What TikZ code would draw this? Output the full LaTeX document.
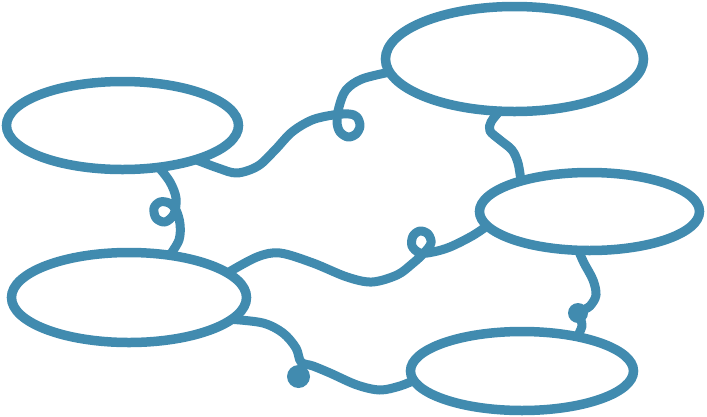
\documentclass[tikz,border=0pt]{standalone}
\usetikzlibrary{shapes.geometric}
\definecolor{curl}{RGB}{65,139,175}
\begin{document}
\begin{tikzpicture}[x=1pt,y=-1pt,
  bubble/.style={draw=curl, line width=9.5pt, ellipse, inner sep=0pt, outer sep=0pt},
  curly/.style={draw=curl, line width=9pt, line cap=round, line join=round},
  blob/.style={fill=curl}]
\useasboundingbox (0,0) rectangle (707,416);
\node[bubble, minimum width=232pt, minimum height=88pt] (e1) at (122.5,125.5) {};
\node[bubble, minimum width=258pt, minimum height=105pt] (e2) at (514.5,59) {};
\node[bubble, minimum width=220pt, minimum height=78pt] (e3) at (589.5,211.5) {};
\node[bubble, minimum width=235pt, minimum height=90pt] (e4) at (129,297.5) {};
\node[bubble, minimum width=223pt, minimum height=79pt] (e5) at (522,371) {};
% e1 -> e2
\draw[curly] plot[smooth, tension=0.55] coordinates {(e1.-25) (218,168) (237,173) (258,166) (275,150) (292,132) (312,120) (333,115) (349,114) (357,117) (360,126) (356,134) (348,137) (340,132) (337,122) (339,107) (346,90) (362,79) (e2.186)};
% e1 -> e4
\draw[curly] plot[smooth, tension=0.55] coordinates {(e1.-49) (170,182) (176,198) (174,214) (165,222) (156,218) (154,208) (160,202) (169,203) (176,210) (180,224) (179,240) (e4.46)};
% e4 -> e3
\draw[curly] plot[smooth, tension=0.55] coordinates {(e4.14) (257,257) (280,253) (313,263) (347,277) (372,282) (397,275) (412,264) (424,253) (431,243) (428,234) (420,231) (413,236) (412,246) (420,253) (433,252) (450,247) (472,236) (e3.188)};
% e4 -> e5
\draw[curly] plot[smooth, tension=0.55] coordinates {(e4.-12) (263,323) (283,333) (296,348) (301,362) (313,366) (330,373) (357,385) (380,390) (400,386) (e5.185)};
\coordinate (d1) at (298.5,376.5);
\fill[blob] (d1) circle[radius=11.5pt];
% e2 -> e3
\draw[curly] plot[smooth, tension=0.55] coordinates {(e2.-106) (491,122) (490,131) (500,140) (512,150) (518,163) (e3.156)};
% e3 -> e5
\draw[curly] plot[smooth, tension=0.55] coordinates {(e3.-106) (584,263) (593,280) (596,295) (590,306) (580,313) (582,326) (e5.32)};
\coordinate (d2) at (578,313);
\fill[blob] (d2) circle[radius=10pt];
\end{tikzpicture}
\end{document}
